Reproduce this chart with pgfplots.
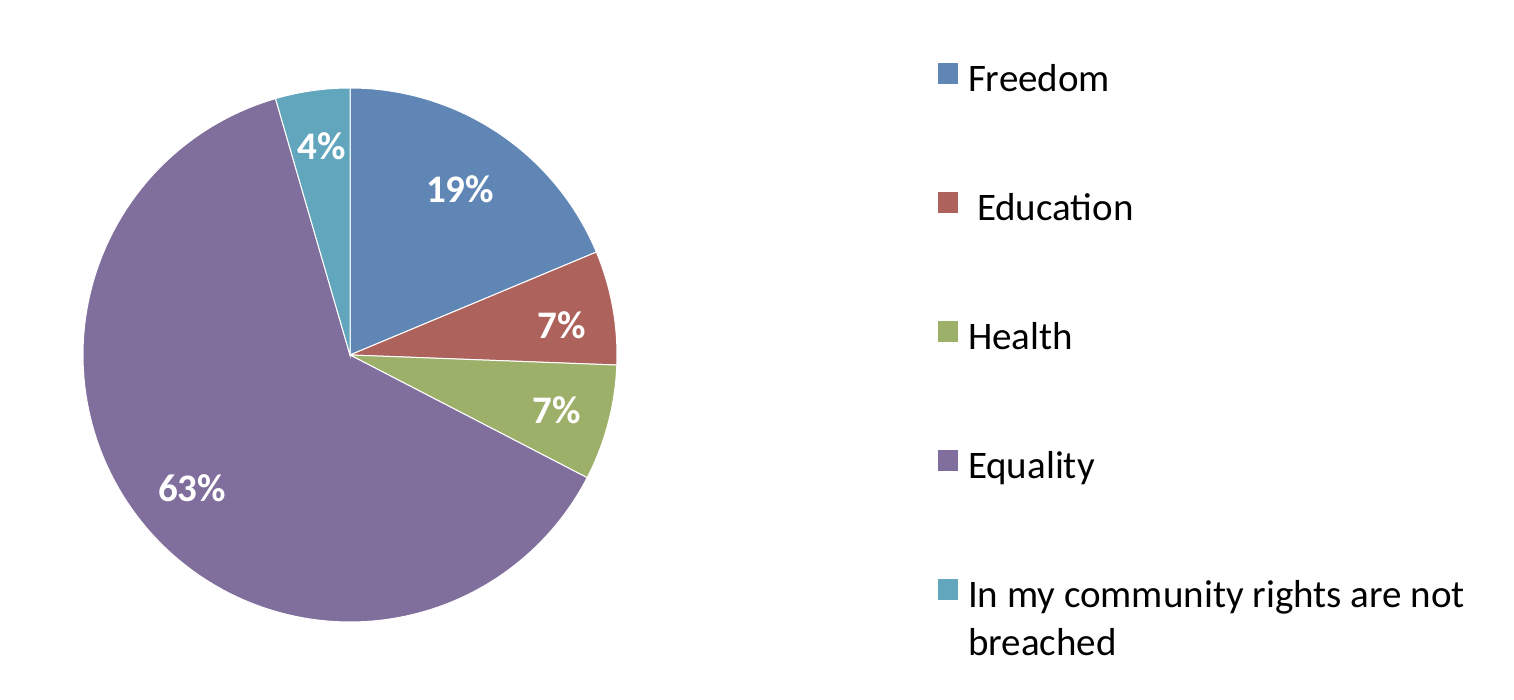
\documentclass[border=0pt]{standalone}
\usepackage{fontspec}
\setmainfont{Carlito}
\usepackage{pgfplots}
\pgfplotsset{compat=1.18}
\definecolor{cFree}{RGB}{95,134,180}
\definecolor{cEdu}{RGB}{174,98,92}
\definecolor{cHealth}{RGB}{157,176,106}
\definecolor{cEq}{RGB}{128,110,156}
\definecolor{cComm}{RGB}{98,166,190}
% shares in percent
\def\vFree{18.7}
\def\vEdu{6.9}
\def\vHealth{7.0}
\def\vEq{62.9}
\def\vComm{4.5}
\pgfmathsetmacro\aA{90}
\pgfmathsetmacro\aB{\aA-3.6*\vFree}
\pgfmathsetmacro\aC{\aB-3.6*\vEdu}
\pgfmathsetmacro\aD{\aC-3.6*\vHealth}
\pgfmathsetmacro\aE{\aD-3.6*\vEq}
\pgfmathsetmacro\aF{\aE-3.6*\vComm}
\begin{document}
\begin{tikzpicture}
\begin{axis}[
  scale only axis, width=1514bp, height=700bp,
  xmin=0, xmax=1514, ymin=0, ymax=700,
  hide axis, clip=false,
  legend style={at={(axis cs:937,638)}, anchor=north west, draw=none, fill=none,
    inner sep=0pt, outer sep=0pt,
    font=\fontsize{39bp}{47.5bp}\selectfont, row sep=89bp,
    nodes={inner sep=0pt, text height=30bp, text depth=10bp},
    /tikz/every odd column/.append style={column sep=9bp}},
  legend cell align=left,
  legend image code/.code={\fill[#1] (0bp,-3bp) rectangle (21bp,19bp);},
]
\addplot[fill=cFree, draw=white, line width=1bp, domain=\aB:\aA, samples=80, variable=\t]
  ({350+267*cos(\t)},{345+267*sin(\t)}) -- (axis cs:350,345) -- cycle;
\addlegendentry{Freedom}
\addplot[fill=cEdu, draw=white, line width=1bp, domain=\aC:\aB, samples=40, variable=\t]
  ({350+267*cos(\t)},{345+267*sin(\t)}) -- (axis cs:350,345) -- cycle;
\addlegendentry{\hspace{9bp}Education}
\addplot[fill=cHealth, draw=white, line width=1bp, domain=\aD:\aC, samples=40, variable=\t]
  ({350+267*cos(\t)},{345+267*sin(\t)}) -- (axis cs:350,345) -- cycle;
\addlegendentry{Health}
\addplot[fill=cEq, draw=white, line width=1bp, domain=\aE:\aD, samples=200, variable=\t]
  ({350+267*cos(\t)},{345+267*sin(\t)}) -- (axis cs:350,345) -- cycle;
\addlegendentry{Equality}
\addplot[fill=cComm, draw=white, line width=1bp, domain=\aF:\aE, samples=30, variable=\t]
  ({350+267*cos(\t)},{345+267*sin(\t)}) -- (axis cs:350,345) -- cycle;
\addlegendentry{\parbox[t]{540bp}{\raggedright In my community rights are not breached}}
\begin{scope}[every node/.style={text=white, font=\fontsize{39bp}{47bp}\selectfont\bfseries}]
\node at (axis cs:460,511) {19\%};
\node at (axis cs:562,375) {7\%};
\node at (axis cs:557,290) {7\%};
\node at (axis cs:192,212) {63\%};
\node at (axis cs:322,554) {4\%};
\end{scope}
\end{axis}
\path (current axis.south west) rectangle (current axis.north east);
\end{tikzpicture}
\end{document}
